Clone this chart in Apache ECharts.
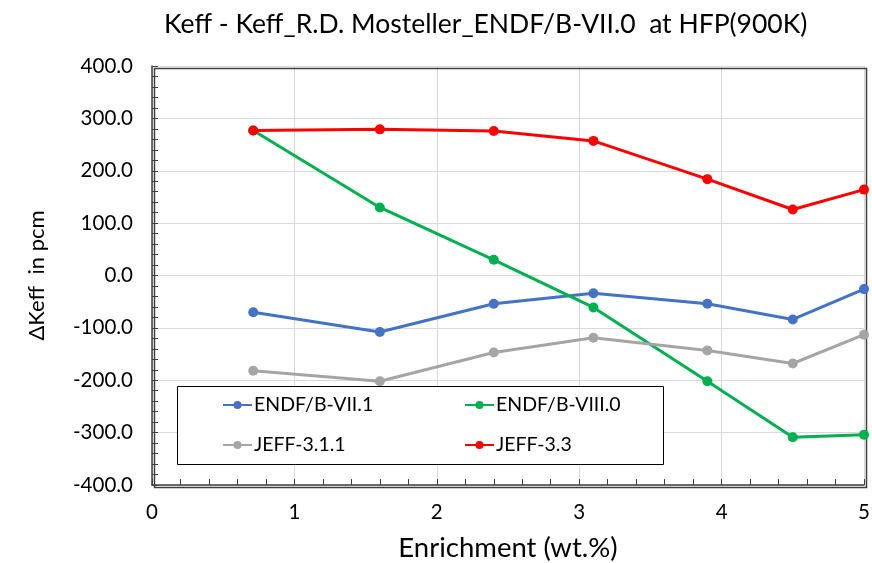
<!DOCTYPE html>
<html><head><meta charset="utf-8">
<script src="https://cdn.jsdelivr.net/npm/echarts@6/dist/echarts.min.js"></script>
<style>html,body{margin:0;padding:0;background:#fff}#c{width:872px;height:563px}</style>
</head><body><div id="c"></div>
<script>
const enrichment = [0.711, 1.6, 2.4, 3.1, 3.9, 4.5, 5.0];
const endf71 = [-70, -108, -54, -34, -54, -84, -26];
const endf80 = [277, 130, 30, -61, -202, -309, -304];
const jeff311 = [-182, -202, -147, -119, -143, -168, -113];
const jeff33 = [277, 279, 276, 257, 184, 126, 164];
const seriesNames = ['ENDF/B-VII.1', 'ENDF/B-VIII.0', 'JEFF-3.1.1', 'JEFF-3.3'];
const seriesColors = ['#4472C4', '#00B050', '#A5A5A5', '#FF0000'];
const seriesValues = [endf71, endf80, jeff311, jeff33];

const FONT = 'Lato';
const chart = echarts.init(document.getElementById('c'), null, {renderer: 'canvas'});
const legendPos = [[222, 395], [464, 395], [222, 435], [464, 435]];
chart.setOption({
  animation: false,
  title: {text: 'Keff - Keff_R.D. Mosteller_ENDF/B-VII.0  at HFP(900K)', left: 159, top: 6,
    textStyle: {fontFamily: FONT, fontSize: 26.5, fontWeight: 'normal', color: '#000'}},
  grid: {left: 152, right: 8, top: 66, bottom: 78, outerBoundsMode: 'none', containLabel: false},
  graphic: [
    {type: 'rect', left: 177, top: 386, shape: {width: 486, height: 78}, z: 50,
      style: {fill: '#fff', stroke: '#000', lineWidth: 1}},
    {type: 'rect', left: 152, top: 66, shape: {width: 712, height: 419}, z: 1, silent: true,
      style: {fill: 'none', stroke: '#404040', lineWidth: 1.5}}
  ],
  legend: seriesNames.map((n, i) => ({data: [n], left: legendPos[i][0], top: legendPos[i][1], z: 60,
    itemWidth: 29, itemHeight: 10, itemGap: 0, padding: 0,
    textStyle: {fontFamily: FONT, fontSize: 19.5, color: '#000', padding: [0, 0, 0, -3]}})),
  xAxis: {type: 'value', min: 0, max: 5, interval: 1,
    name: 'Enrichment (wt.%)', nameLocation: 'middle', nameGap: 49,
    nameTextStyle: {fontFamily: FONT, fontSize: 27.5, color: '#000'},
    axisLine: {onZero: false, lineStyle: {color: '#404040', width: 1.5}},
    axisTick: {inside: true, length: 6, lineStyle: {color: '#404040'}},
    minorTick: {show: true, splitNumber: 5, length: 6, lineStyle: {color: '#404040'}},
    axisLabel: {fontFamily: FONT, fontSize: 20.5, color: '#000', margin: 17},
    splitLine: {show: true, lineStyle: {color: '#d9d9d9', width: 1}}},
  yAxis: {type: 'value', min: -400, max: 400, interval: 100,
    name: 'ΔKeff  in pcm', nameLocation: 'middle', nameGap: 104, nameRotate: 90,
    nameTextStyle: {fontFamily: FONT, fontSize: 22, color: '#000'},
    axisLine: {show: true, lineStyle: {color: '#404040', width: 1.5}},
    axisTick: {inside: true, length: 6, lineStyle: {color: '#404040'}},
    minorTick: {show: true, splitNumber: 5, length: 6, lineStyle: {color: '#404040'}},
    axisLabel: {fontFamily: FONT, fontSize: 20.5, color: '#000', margin: 19, formatter: v => v.toFixed(1)},
    splitLine: {show: true, lineStyle: {color: '#d9d9d9', width: 1}}},
  series: seriesNames.map((n, i) => ({
    name: n, type: 'line', data: enrichment.map((x, j) => [x, seriesValues[i][j]]),
    symbol: 'circle', symbolSize: 10, color: seriesColors[i],
    lineStyle: {width: 3, color: seriesColors[i]}, itemStyle: {color: seriesColors[i]}, z: 2 + i
  }))
});
</script></body></html>
